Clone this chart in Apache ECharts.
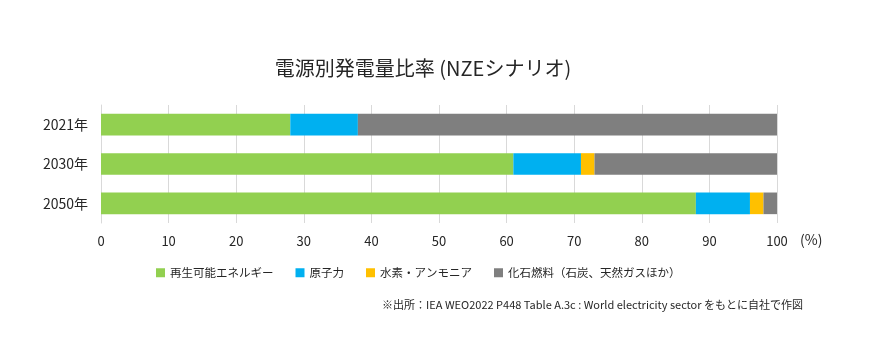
<!DOCTYPE html>
<html><head><meta charset="utf-8">
<script src="https://cdn.jsdelivr.net/npm/echarts@6/dist/echarts.min.js"></script>
<style>html,body{margin:0;padding:0;background:#fff}#c{width:896px;height:355px}</style>
</head><body><div id="c"></div>
<script>
const categories = ['2021年', '2030年', '2050年'];
const seriesNames = ['再生可能エネルギー', '原子力', '水素・アンモニア', '化石燃料（石炭、天然ガスほか）'];
const renewables = [28, 61, 88];
const nuclear = [10, 10, 8];
const hydrogen = [0, 2, 2];
const fossil = [62, 27, 2];
const xTicks = [0, 10, 20, 30, 40, 50, 60, 70, 80, 90, 100];
const colors = ['#92D050', '#00B0F0', '#FFC000', '#7F7F7F'];
const font = '"Noto Sans CJK JP", "Noto Sans", sans-serif';

const values = [renewables, nuclear, hydrogen, fossil];
const chart = echarts.init(document.getElementById('c'));
chart.setOption({
  animation: false,
  textStyle: { fontFamily: font },
  title: [{
    text: '電源別発電量比率 (NZEシナリオ)',
    left: 418, top: 53, textAlign: 'center',
    textStyle: { fontSize: 20, fontWeight: 'normal', color: '#262626', fontFamily: font }
  }, {
    text: '※出所：IEA WEO2022 P448 Table A.3c : World electricity sector をもとに自社で作図',
    right: 88, top: 294,
    textStyle: { fontSize: 11, fontWeight: 'normal', color: '#262626', fontFamily: font }
  }],
  legend: {
    data: seriesNames, left: 151, top: 262,
    itemWidth: 9, itemHeight: 9, itemGap: 22, icon: 'rect',
    textStyle: { fontSize: 11.5, color: '#262626', fontFamily: font }
  },
  grid: { left: 101, right: 119, top: 105, bottom: 132, containLabel: false },
  xAxis: {
    type: 'value', min: xTicks[0], max: xTicks[xTicks.length - 1], interval: 10,
    axisLine: { show: false }, axisTick: { show: false },
    splitLine: { lineStyle: { color: '#D9D9D9', width: 1 } },
    axisLabel: { fontSize: 13, color: '#262626', margin: 12, fontFamily: font },
    name: '(%)', nameLocation: 'end', nameGap: 23,
    nameTextStyle: { fontSize: 14, color: '#262626', verticalAlign: 'top', padding: [10, 0, 0, 0], fontFamily: font }
  },
  yAxis: {
    type: 'category', data: categories, inverse: true,
    axisLine: { show: true, lineStyle: { color: '#D9D9D9' } }, axisTick: { show: false },
    axisLabel: { fontSize: 14, color: '#262626', margin: 13, fontFamily: font }
  },
  series: seriesNames.map((n, i) => ({
    name: n, type: 'bar', stack: 'total', data: values[i],
    barWidth: '55%', itemStyle: { color: colors[i] }
  }))
});
</script></body></html>
